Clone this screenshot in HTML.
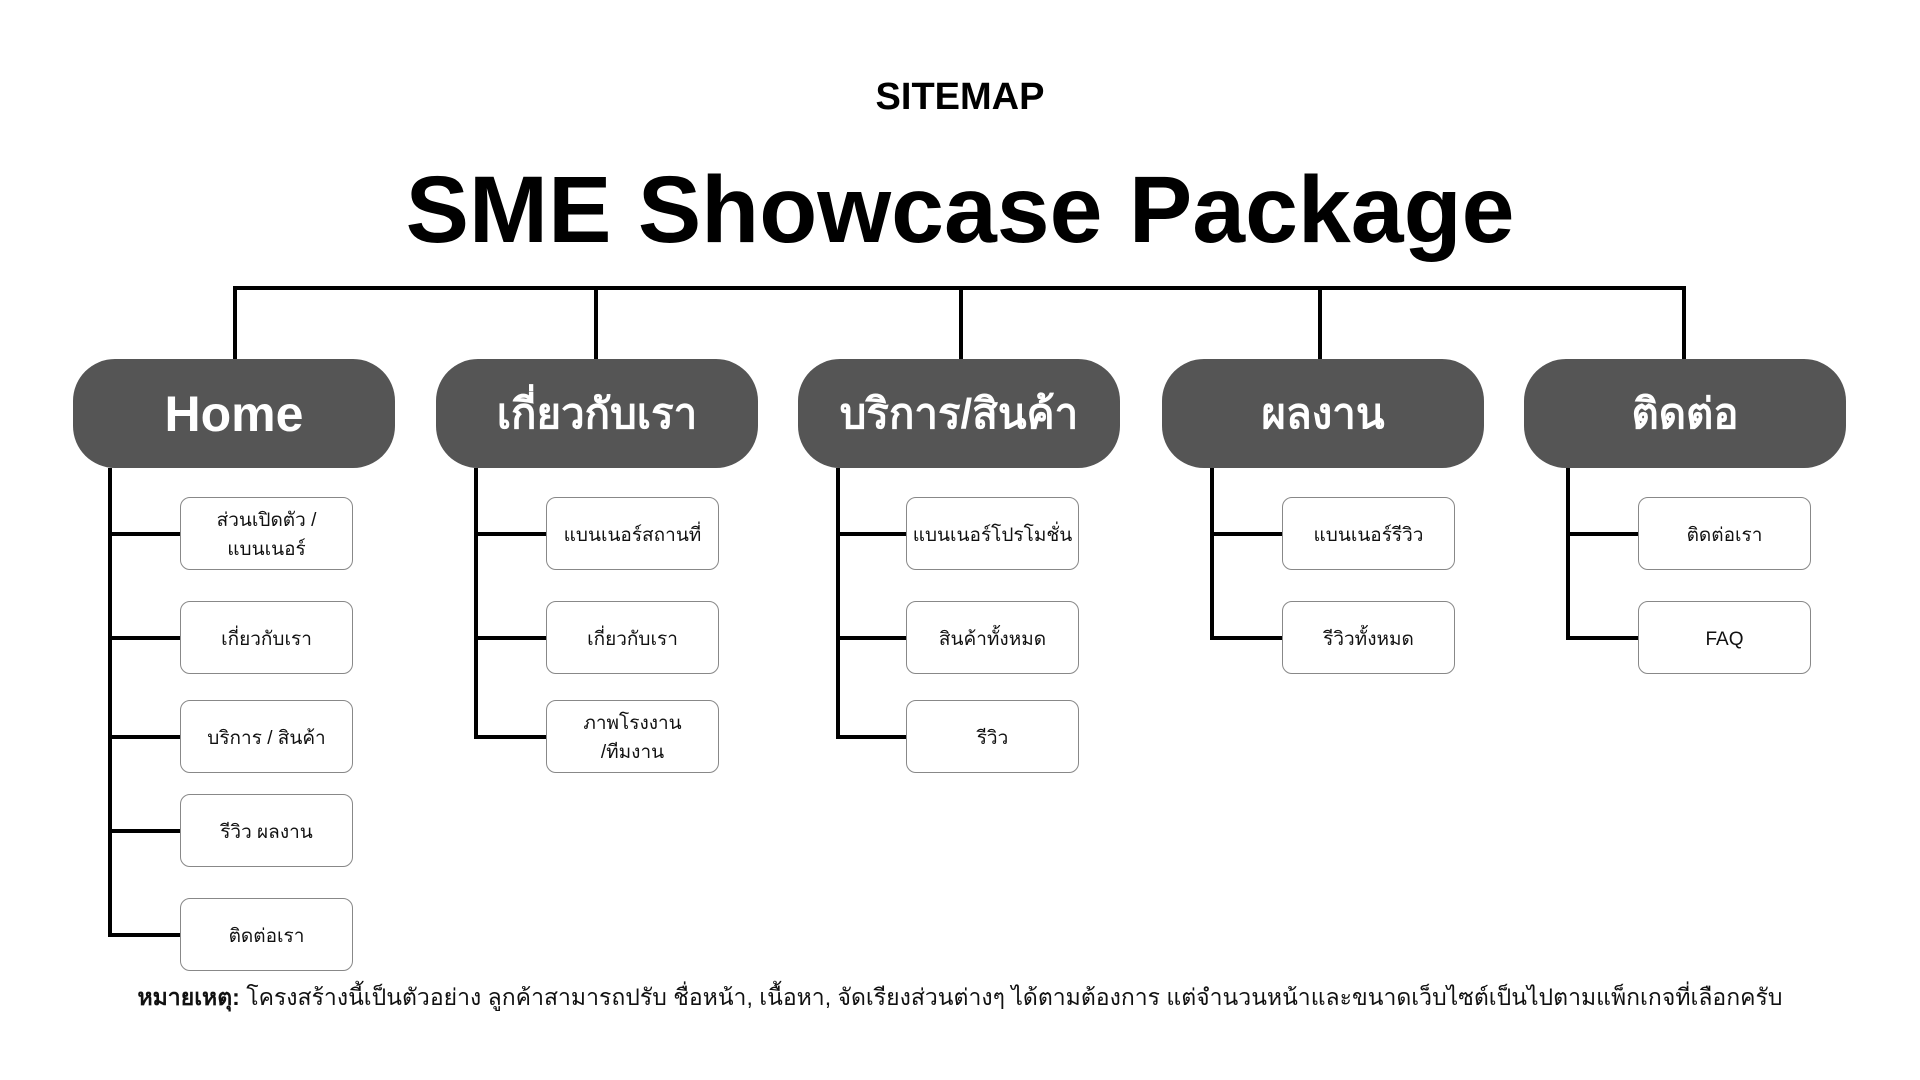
<!DOCTYPE html>
<html><head><meta charset="utf-8"><style>
body{margin:0;width:1920px;height:1080px;background:#fff;position:relative;overflow:hidden;font-family:"Liberation Sans","DejaVu Sans",sans-serif;}
.a{position:absolute}
.l{position:absolute;background:#000}
.top{position:absolute;top:359px;width:322px;height:109px;background:#555;border-radius:42px;color:#fff;font-weight:bold;font-size:42px;display:flex;align-items:center;justify-content:center}
.c{position:absolute;width:171px;height:71px;border:1.5px solid #888;border-radius:10px;background:#fff;display:flex;align-items:center;justify-content:center;text-align:center;font-size:19px;line-height:29px;color:#111;padding-top:3px;box-sizing:content-box}
</style></head><body>
<div class="a" style="left:0;width:1920px;top:76px;text-align:center;font-weight:bold;font-size:38px">SITEMAP</div>
<div class="a" style="left:0;width:1920px;top:150px;text-align:center;font-weight:bold;font-size:95px;line-height:120px">SME Showcase Package</div>
<div class="l" style="left:233px;top:286px;width:1453px;height:4px"></div>
<div class="l" style="left:233px;top:286px;width:4px;height:74px"></div>
<div class="l" style="left:594px;top:286px;width:4px;height:74px"></div>
<div class="l" style="left:959px;top:286px;width:4px;height:74px"></div>
<div class="l" style="left:1318px;top:286px;width:4px;height:74px"></div>
<div class="l" style="left:1682px;top:286px;width:4px;height:74px"></div>
<div class="top" style="left:73px;font-size:50px">Home</div>
<div class="top" style="left:436px">เกี่ยวกับเรา</div>
<div class="top" style="left:798px">บริการ/สินค้า</div>
<div class="top" style="left:1162px">ผลงาน</div>
<div class="top" style="left:1524px">ติดต่อ</div>
<div class="l" style="left:108px;top:468px;width:4px;height:469px"></div>
<div class="l" style="left:474px;top:468px;width:4px;height:271px"></div>
<div class="l" style="left:836px;top:468px;width:4px;height:271px"></div>
<div class="l" style="left:1210px;top:468px;width:4px;height:172px"></div>
<div class="l" style="left:1566px;top:468px;width:4px;height:172px"></div>
<div class="l" style="left:108px;top:532px;width:72px;height:4px"></div>
<div class="l" style="left:108px;top:636px;width:72px;height:4px"></div>
<div class="l" style="left:108px;top:735px;width:72px;height:4px"></div>
<div class="l" style="left:108px;top:829px;width:72px;height:4px"></div>
<div class="l" style="left:108px;top:933px;width:72px;height:4px"></div>
<div class="l" style="left:474px;top:532px;width:72px;height:4px"></div>
<div class="l" style="left:474px;top:636px;width:72px;height:4px"></div>
<div class="l" style="left:474px;top:735px;width:72px;height:4px"></div>
<div class="l" style="left:836px;top:532px;width:70px;height:4px"></div>
<div class="l" style="left:836px;top:636px;width:70px;height:4px"></div>
<div class="l" style="left:836px;top:735px;width:70px;height:4px"></div>
<div class="l" style="left:1210px;top:532px;width:72px;height:4px"></div>
<div class="l" style="left:1210px;top:636px;width:72px;height:4px"></div>
<div class="l" style="left:1566px;top:532px;width:72px;height:4px"></div>
<div class="l" style="left:1566px;top:636px;width:72px;height:4px"></div>
<div class="c" style="left:180px;top:497px;height:68px">ส่วนเปิดตัว /<br>แบนเนอร์</div>
<div class="c" style="left:180px;top:601px;height:68px">เกี่ยวกับเรา</div>
<div class="c" style="left:180px;top:700px;height:68px">บริการ / สินค้า</div>
<div class="c" style="left:180px;top:794px;height:68px">รีวิว ผลงาน</div>
<div class="c" style="left:180px;top:898px;height:68px">ติดต่อเรา</div>
<div class="c" style="left:546px;top:497px;height:68px">แบนเนอร์สถานที่</div>
<div class="c" style="left:546px;top:601px;height:68px">เกี่ยวกับเรา</div>
<div class="c" style="left:546px;top:700px;height:68px">ภาพโรงงาน<br>/ทีมงาน</div>
<div class="c" style="left:906px;top:497px;height:68px">แบนเนอร์โปรโมชั่น</div>
<div class="c" style="left:906px;top:601px;height:68px">สินค้าทั้งหมด</div>
<div class="c" style="left:906px;top:700px;height:68px">รีวิว</div>
<div class="c" style="left:1282px;top:497px;height:68px">แบนเนอร์รีวิว</div>
<div class="c" style="left:1282px;top:601px;height:68px">รีวิวทั้งหมด</div>
<div class="c" style="left:1638px;top:497px;height:68px">ติดต่อเรา</div>
<div class="c" style="left:1638px;top:601px;height:68px">FAQ</div>
<div class="a" style="left:0;width:1920px;top:982px;text-align:center;font-size:23px;line-height:30px;color:#111"><b>หมายเหตุ:</b> โครงสร้างนี้เป็นตัวอย่าง ลูกค้าสามารถปรับ ชื่อหน้า, เนื้อหา, จัดเรียงส่วนต่างๆ ได้ตามต้องการ แต่จำนวนหน้าและขนาดเว็บไซต์เป็นไปตามแพ็กเกจที่เลือกครับ</div>
</body></html>
